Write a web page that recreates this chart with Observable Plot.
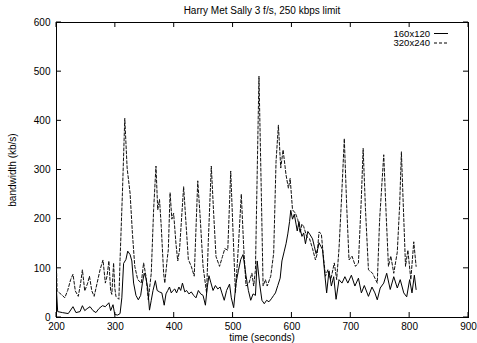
<!DOCTYPE html>
<html>
<head>
<meta charset="utf-8">
<script src="https://cdn.jsdelivr.net/npm/d3@7"></script>
<script src="https://cdn.jsdelivr.net/npm/@observablehq/plot@0.6"></script>
<style>
  body { margin: 0; background: #fff; }
  svg { display: block; }
</style>
</head>
<body>
<div id="chart"></div>
<script>
// Bandwidth over time for the two encodings (kb/s against seconds).
const t160 = [200,202,210,220,228,233,240,244,248,252,257,262,267,272,278,283,289,292,296,299,304,308,311,314,318,321,325,328,331,335,339,343,346,349,352,355,358,361,364,368,371,375,379,383,386,389,392,395,398,401,404,408,411,414,418,421,425,429,433,437,441,445,449,453,456,459,462,466,470,474,478,481,485,489,494,497,501,505,509,513,517,522,526,530,534,538,541,545,549,553,557,561,565,569,572,576,580,583,587,590,593,596,598,601,604,607,609,612,614,617,620,623,627,631,635,638,641,644,646,649,652,656,659,663,667,671,675,680,685,690,695,701,707,713,718,723,730,736,741,745,750,756,761,767,773,779,784,790,795,800,804,808,811];
const v160 = [55,12,10,8,22,10,12,24,14,18,22,14,10,18,24,22,30,14,26,6,5,8,40,110,118,135,128,115,70,45,36,45,70,90,80,60,15,35,55,75,55,52,50,25,48,55,62,50,55,58,50,62,55,70,52,55,48,52,45,40,55,48,45,25,60,85,72,55,65,58,62,50,35,55,68,40,20,70,95,118,128,85,55,35,48,45,115,70,35,28,35,32,38,45,50,65,80,115,135,150,170,195,218,200,210,190,176,195,180,165,172,150,175,168,160,145,130,140,152,145,138,86,50,95,64,83,37,77,70,83,70,86,64,80,50,65,43,62,50,36,60,70,90,57,83,60,77,50,42,77,50,86,57];

const t320 = [200,201,205,210,214,219,224,228,232,237,241,244,248,253,256,260,264,269,274,279,283,286,289,292,294,297,299,301,306,308,312,316,320,325,329,333,338,344,348,352,356,361,365,369,372,375,378,382,384,388,390,393,396,399,403,406,409,416,420,424,429,434,440,444,449,455,458,463,467,471,477,482,486,491,496,500,504,509,514,518,522,527,532,535,538,544,548,551,555,558,564,569,573,577,581,585,590,594,597,601,606,610,614,617,620,625,630,635,640,643,646,650,653,657,661,666,672,676,680,684,689,693,697,702,708,713,718,721,725,730,737,745,749,756,760,764,768,773,779,783,786,789,793,797,802,807,811];
const v320 = [100,54,50,45,40,55,77,88,54,43,70,97,54,70,84,54,43,70,97,117,70,85,115,54,47,111,60,43,37,118,253,405,304,253,171,104,77,70,111,84,36,90,219,308,219,240,185,90,70,118,138,254,200,212,150,115,137,266,192,118,104,84,278,206,104,50,157,308,212,124,104,124,140,137,298,172,50,144,251,144,64,70,90,64,97,491,252,64,77,64,84,131,317,391,304,341,290,263,283,219,212,199,172,190,185,165,160,140,117,130,174,170,130,84,97,77,111,77,140,235,364,228,117,125,104,111,245,344,219,97,90,70,199,331,212,104,125,90,133,228,337,235,104,137,77,154,104];

const seriesNames = ["160x120", "320x240"];
const xTicks = [200, 300, 400, 500, 600, 700, 800, 900];
const yTicks = [0, 100, 200, 300, 400, 500, 600];

const rows160 = t160.map((t, i) => ({t, v: v160[i]}));
const rows320 = t320.map((t, i) => ({t, v: v320[i]}));

const font = "'Liberation Sans', Arial, Helvetica, sans-serif";
const dash = "3,2";
const tickLen = 5;

const chart = Plot.plot({
  width: 477,
  height: 343,
  marginLeft: 56,
  marginRight: 9,
  marginTop: 22,
  marginBottom: 26,
  style: {fontFamily: font, fontSize: "10px", background: "#fff", color: "#000", overflow: "visible"},
  x: {domain: [200, 900]},
  y: {domain: [0, 600]},
  marks: [
    Plot.axisX(xTicks, {anchor: "bottom", tickSize: 0, tickPadding: 5, label: null}),
    Plot.axisY(yTicks, {anchor: "left", tickSize: 0, tickPadding: 6, label: null}),
    Plot.frame({stroke: "#000", strokeWidth: 1}),
    Plot.line(rows320, {x: "t", y: "v", stroke: "#111", strokeWidth: 1, strokeDasharray: dash}),
    Plot.line(rows160, {x: "t", y: "v", stroke: "#000", strokeWidth: 1})
  ]
});

document.getElementById("chart").appendChild(chart);

const svg = d3.select(chart);
const xScale = chart.scale("x"), yScale = chart.scale("y");
const [frameLeft, frameRight] = xScale.range;
const [frameBottom, frameTop] = yScale.range;

// Inward tick marks on all four sides of the frame
const tickGroup = svg.append("g").attr("stroke", "#000").attr("stroke-width", 1);
xTicks.forEach(v => {
  const x = xScale.apply(v);
  tickGroup.append("line").attr("x1", x).attr("x2", x).attr("y1", frameBottom).attr("y2", frameBottom - tickLen);
  tickGroup.append("line").attr("x1", x).attr("x2", x).attr("y1", frameTop).attr("y2", frameTop + tickLen);
});
yTicks.forEach(v => {
  const y = yScale.apply(v);
  tickGroup.append("line").attr("x1", frameLeft).attr("x2", frameLeft + tickLen).attr("y1", y).attr("y2", y);
  tickGroup.append("line").attr("x1", frameRight).attr("x2", frameRight - tickLen).attr("y1", y).attr("y2", y);
});

// Title, axis titles and key
const g = svg.append("g").attr("font-family", font).attr("font-size", 10).attr("fill", "#000");

g.append("text")
  .attr("x", 262).attr("y", 10).attr("text-anchor", "middle").attr("dy", "0.35em")
  .text("Harry Met Sally 3 f/s, 250 kbps limit");

g.append("text")
  .attr("x", 262).attr("y", 337).attr("text-anchor", "middle").attr("dy", "0.35em")
  .text("time (seconds)");

g.append("text")
  .attr("transform", "translate(12,170) rotate(-90)")
  .attr("text-anchor", "middle").attr("dy", "0.35em")
  .text("bandwidth (kb/s)");

seriesNames.forEach((name, i) => {
  const y = 33.5 + i * 9.5;
  g.append("text")
    .attr("x", 430).attr("y", y).attr("text-anchor", "end").attr("dy", "0.35em")
    .attr("font-size", 9.5)
    .text(name);
  g.append("line")
    .attr("x1", 434).attr("x2", 448).attr("y1", y).attr("y2", y)
    .attr("stroke", "#000").attr("stroke-width", 1)
    .attr("stroke-dasharray", i === 0 ? null : dash);
});
</script>
</body>
</html>
